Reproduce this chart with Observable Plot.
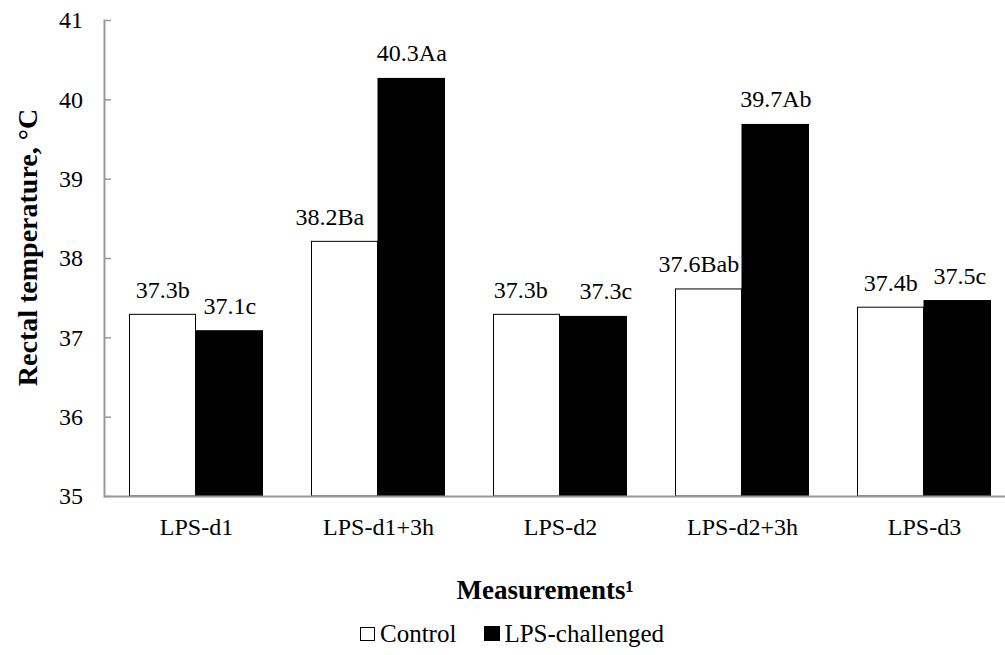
<!DOCTYPE html>
<html>
<head>
<meta charset="utf-8">
<script src="https://cdn.jsdelivr.net/npm/d3@7"></script>
<script src="https://cdn.jsdelivr.net/npm/@observablehq/plot@0.6"></script>
<style>
  html, body { margin: 0; padding: 0; background: #fff; overflow: hidden; }
  body { width: 1005px; height: 655px; position: relative; font-family: 'Liberation Serif', serif; color: #000; }
  #chart svg { display: block; }
  .xtitle { position: absolute; left: 545px; top: 577px; transform: translateX(-50%); font-family: 'Liberation Serif', serif; font-size: 27px; font-weight: bold; line-height: 1; white-space: nowrap; }
  .legend { position: absolute; left: 360px; top: 621px; font-family: 'Liberation Serif', serif; font-size: 25px; line-height: 1; display: flex; align-items: center; white-space: nowrap; }
  .sw { display: inline-block; box-sizing: border-box; }
  .sw.c { width: 15px; height: 14px; border: 1px solid #000; background: #fff; margin-right: 5px; }
  .sw.l { width: 16px; height: 15px; background: #000; margin-left: 28px; margin-right: 4px; }
</style>
</head>
<body>
<div id="chart"></div>
<div class="xtitle">Measurements¹</div>
<div class="legend"><span class="sw c"></span><span>Control</span><span class="sw l"></span><span>LPS-challenged</span></div>
<script>
const categories = ["LPS-d1", "LPS-d1+3h", "LPS-d2", "LPS-d2+3h", "LPS-d3"];
const controlValues = [37.29, 38.21, 37.29, 37.61, 37.38];
const lpsValues = [37.09, 40.27, 37.27, 39.69, 37.47];
const controlLabels = ["37.3b", "38.2Ba", "37.3b", "37.6Bab", "37.4b"];
const lpsLabels = ["37.1c", "40.3Aa", "37.3c", "39.7Ab", "37.5c"];
const yTicks = [35, 36, 37, 38, 39, 40, 41];
const seriesNames = ["Control", "LPS-challenged"];
const yTitle = "Rectal temperature, °C";

const controlRows = categories.map((c, i) => ({cat: c, series: seriesNames[0], value: controlValues[i], label: controlLabels[i]}));
const lpsRows = categories.map((c, i) => ({cat: c, series: seriesNames[1], value: lpsValues[i], label: lpsLabels[i]}));

const font = "Liberation Serif";
const textOpts = {x: "cat", y: "value", text: "label", dy: -17, lineAnchor: "bottom", fontSize: 24, fontFamily: font, fill: "#000"};
const pick = (rows, cats) => rows.filter(d => cats.includes(d.cat));

const chart = Plot.plot({
  width: 1005,
  height: 550,
  marginLeft: 104,
  marginRight: 0,
  marginTop: 20,
  marginBottom: 54,
  style: {fontFamily: font, fontSize: "24px", color: "#000", background: "#fff", overflow: "visible"},
  x: {domain: categories, range: [104, 1016], padding: 0},
  y: {domain: [35, 41]},
  marks: [
    Plot.barY(controlRows, {x: "cat", y1: 35, y2: "value", fill: "#fff", stroke: "#000", strokeWidth: 1, insetLeft: 24.5, insetRight: 91.5}),
    Plot.barY(lpsRows, {x: "cat", y1: 35, y2: "value", fill: "#000", insetLeft: 90.5, insetRight: 24}),
    Plot.ruleY([35], {stroke: "#999", strokeWidth: 2}),
    Plot.frame({anchor: "left", stroke: "#999", strokeWidth: 2}),
    Plot.axisY({ticks: yTicks, tickSize: -7, text: null, stroke: "#999", strokeWidth: 1.5, label: null}),
    Plot.axisY({ticks: yTicks, tickSize: 0, tickPadding: 21.5, fontSize: 24, fontFamily: font, label: null, tickFormat: d => String(d)}),
    Plot.axisX({tickSize: 0, tickPadding: 21.5, fontSize: 24, fontFamily: font, label: null}),
    Plot.text(pick(controlRows, ["LPS-d1", "LPS-d3"]), {...textOpts, dx: -33.7}),
    Plot.text(pick(controlRows, ["LPS-d1+3h"]), {...textOpts, dx: -48.7}),
    Plot.text(pick(controlRows, ["LPS-d2"]), {...textOpts, dx: -39.7}),
    Plot.text(pick(controlRows, ["LPS-d2+3h"]), {...textOpts, dx: -43.7}),
    Plot.text(pick(lpsRows, ["LPS-d1", "LPS-d1+3h", "LPS-d2+3h"]), {...textOpts, dx: 33.3}),
    Plot.text(pick(lpsRows, ["LPS-d2"]), {...textOpts, dx: 45.3}),
    Plot.text(pick(lpsRows, ["LPS-d3"]), {...textOpts, dx: 35.3}),
    Plot.text([yTitle], {frameAnchor: "left", textAnchor: "middle", lineAnchor: "middle", rotate: -90, dx: -76, dy: -11, fontSize: 28, fontWeight: "bold", fontFamily: font, fill: "#000"})
  ]
});
document.getElementById("chart").appendChild(chart);
</script>
</body>
</html>
